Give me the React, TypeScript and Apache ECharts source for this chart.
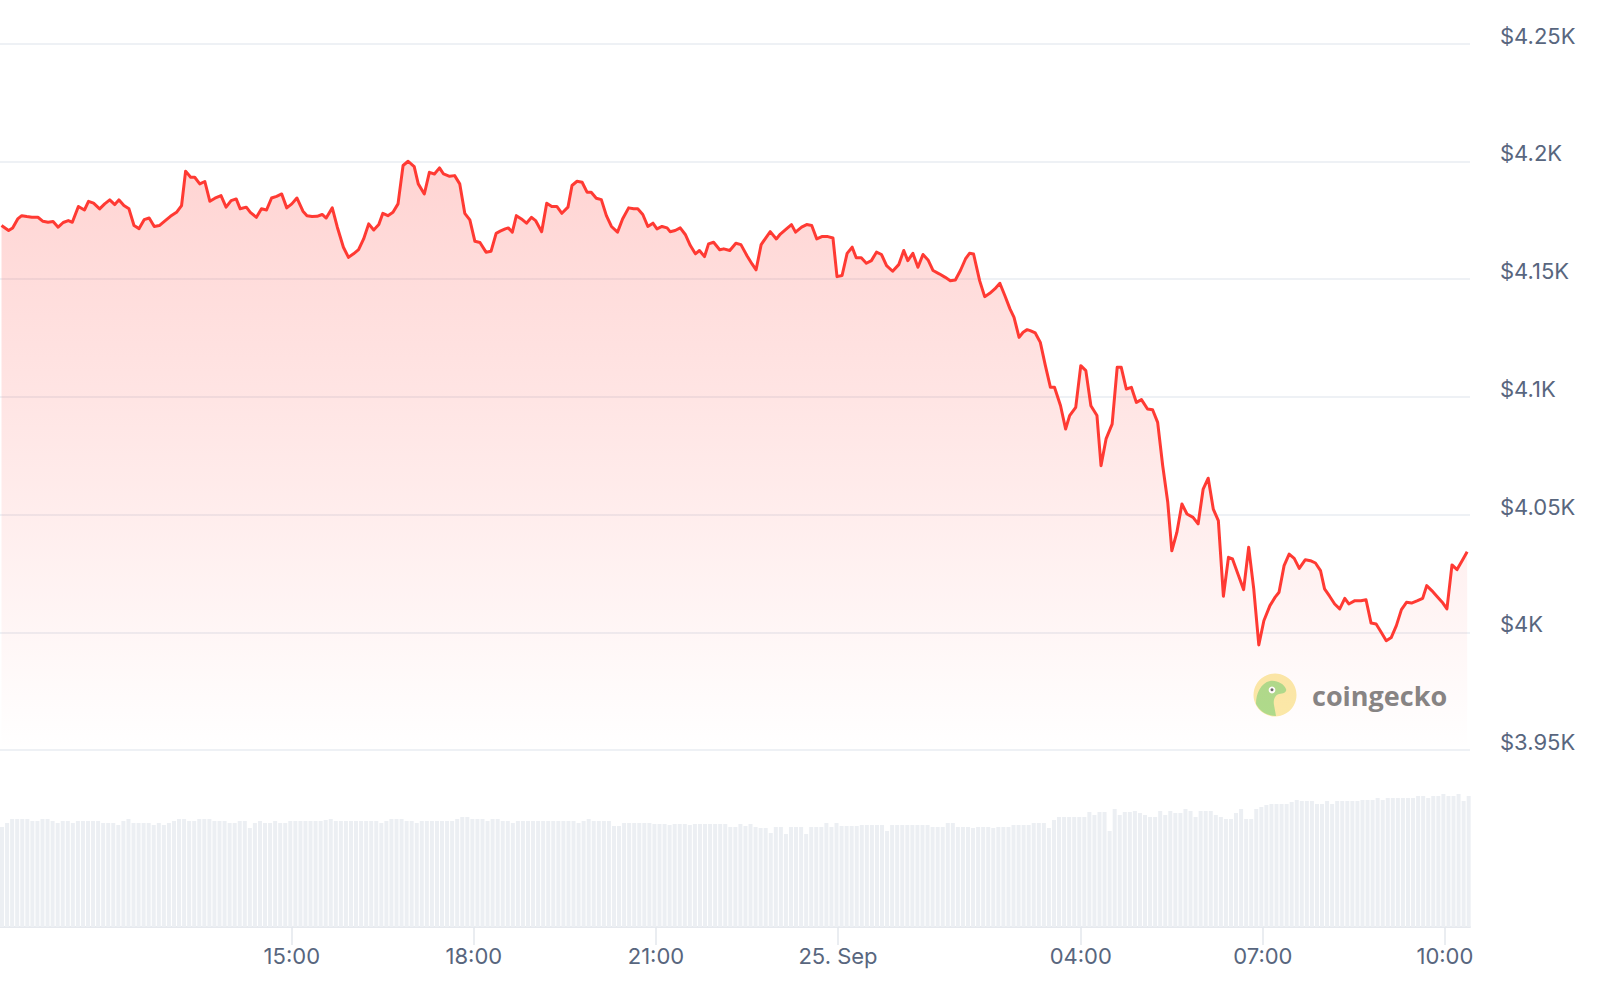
import React, { useEffect, useRef } from "react";
import * as echarts from "echarts";

// Minutes after 24 Sep 00:00, ETH price in USD
const pricePoints: [number, number][] = [
  [613, 4172.7], [620, 4170.6], [624, 4171.7], [629, 4175.5], [633, 4176.9], [638, 4176.5], [643, 4176.2],
  [649, 4176.2], [654, 4174.5], [659, 4174.1], [664, 4174.4], [669, 4172.0], [674, 4174.0], [679, 4174.8],
  [683, 4174.1], [689, 4180.8], [695, 4179.3], [699, 4183.0], [704, 4182.2], [710, 4179.8], [715, 4181.9],
  [720, 4183.6], [725, 4181.6], [729, 4183.6], [734, 4181.2], [739, 4179.8], [744, 4172.7], [749, 4171.4],
  [754, 4175.2], [759, 4175.9], [764, 4172.3], [769, 4172.7], [774, 4174.5], [780, 4176.6], [786, 4178.3],
  [791, 4181.2], [795, 4195.8], [800, 4193.2], [804, 4193.2], [809, 4190.4], [814, 4191.4], [819, 4183.0],
  [824, 4184.3], [830, 4185.4], [835, 4180.5], [840, 4183.3], [845, 4184.0], [849, 4179.8], [855, 4180.5],
  [859, 4178.3], [865, 4176.2], [870, 4179.8], [875, 4179.3], [880, 4184.4], [885, 4185.1], [890, 4186.1],
  [895, 4180.2], [900, 4181.9], [905, 4184.4], [911, 4178.8], [915, 4176.9], [920, 4176.5], [925, 4176.6],
  [930, 4177.4], [934, 4175.9], [940, 4180.2], [945, 4172.0], [951, 4163.5], [956, 4159.2], [961, 4160.7],
  [966, 4162.5], [971, 4167.0], [976, 4173.4], [981, 4170.8], [986, 4173.1], [990, 4177.9], [995, 4176.9],
  [1000, 4178.3], [1005, 4181.9], [1010, 4198.2], [1015, 4200.0], [1021, 4197.7], [1025, 4190.4], [1031, 4186.1],
  [1036, 4195.3], [1041, 4194.6], [1046, 4197.2], [1050, 4194.6], [1056, 4193.6], [1061, 4193.9], [1066, 4190.4],
  [1071, 4177.9], [1076, 4175.1], [1081, 4166.0], [1086, 4165.5], [1092, 4161.4], [1097, 4161.8], [1102, 4169.4],
  [1106, 4170.3], [1111, 4171.3], [1114, 4171.7], [1118, 4169.9], [1122, 4176.9], [1127, 4175.5], [1132, 4173.7],
  [1137, 4176.2], [1141, 4174.8], [1147, 4170.1], [1152, 4182.2], [1157, 4180.8], [1162, 4180.8], [1167, 4177.9],
  [1173, 4180.5], [1177, 4189.7], [1182, 4191.5], [1187, 4191.1], [1192, 4186.8], [1196, 4186.8], [1201, 4184.3],
  [1206, 4183.7], [1211, 4176.9], [1216, 4172.3], [1222, 4169.9], [1227, 4175.5], [1233, 4180.2], [1238, 4179.8],
  [1242, 4179.8], [1247, 4177.4], [1252, 4172.3], [1257, 4173.7], [1261, 4171.3], [1266, 4172.3], [1271, 4171.7],
  [1274, 4170.1], [1279, 4170.6], [1284, 4171.7], [1289, 4168.9], [1294, 4164.2], [1299, 4160.7], [1303, 4162.1],
  [1308, 4159.5], [1312, 4164.9], [1317, 4165.6], [1323, 4162.4], [1327, 4162.8], [1333, 4162.1], [1339, 4165.2],
  [1344, 4164.6], [1350, 4159.9], [1355, 4156.4], [1359, 4153.9], [1364, 4164.6], [1369, 4167.7], [1373, 4170.1],
  [1379, 4167.0], [1383, 4169.1], [1389, 4171.3], [1394, 4173.1], [1398, 4169.9], [1404, 4172.0], [1409, 4173.1],
  [1414, 4172.7], [1419, 4167.0], [1424, 4168.0], [1430, 4168.0], [1435, 4167.4], [1439, 4151.0], [1444, 4151.5],
  [1449, 4160.9], [1454, 4163.5], [1458, 4159.0], [1463, 4159.0], [1468, 4156.7], [1473, 4157.8], [1478, 4161.4],
  [1483, 4160.4], [1488, 4155.7], [1494, 4153.3], [1500, 4156.1], [1505, 4162.1], [1509, 4157.8], [1514, 4160.9],
  [1519, 4155.0], [1524, 4160.4], [1529, 4158.1], [1534, 4153.6], [1540, 4152.2], [1546, 4150.7], [1551, 4149.3],
  [1556, 4149.6], [1561, 4153.6], [1566, 4158.5], [1570, 4160.9], [1574, 4160.6], [1580, 4149.3], [1585, 4142.5],
  [1590, 4143.9], [1595, 4145.8], [1600, 4148.2], [1605, 4142.9], [1610, 4137.3], [1614, 4133.7], [1619, 4125.2],
  [1623, 4127.4], [1627, 4128.5], [1630, 4128.1], [1635, 4127.1], [1640, 4123.1], [1645, 4113.2], [1650, 4104.0],
  [1654, 4104.0], [1660, 4096.2], [1665, 4086.3], [1669, 4092.0], [1675, 4095.5], [1680, 4113.2], [1685, 4111.1],
  [1690, 4096.2], [1696, 4092.0], [1700, 4070.7], [1705, 4082.1], [1711, 4088.4], [1716, 4112.5], [1720, 4112.5],
  [1725, 4103.3], [1730, 4104.0], [1735, 4097.6], [1740, 4098.8], [1746, 4094.8], [1751, 4094.5], [1756, 4089.1],
  [1761, 4070.7], [1766, 4055.2], [1770, 4034.6], [1775, 4042.4], [1780, 4054.5], [1785, 4050.2], [1791, 4048.8],
  [1796, 4046.0], [1801, 4060.8], [1806, 4065.4], [1811, 4052.3], [1816, 4047.4], [1821, 4015.3], [1826, 4031.8],
  [1830, 4031.1], [1836, 4024.0], [1841, 4018.1], [1846, 4036.1], [1851, 4018.4], [1856, 3994.6], [1861, 4004.9],
  [1867, 4011.3], [1872, 4014.8], [1876, 4017.0], [1881, 4028.3], [1886, 4033.2], [1891, 4031.4], [1896, 4027.1],
  [1902, 4030.8], [1907, 4030.4], [1912, 4029.4], [1917, 4026.2], [1921, 4018.4], [1926, 4015.3], [1931, 4012.0],
  [1936, 4009.9], [1941, 4014.4], [1945, 4012.0], [1951, 4013.4], [1957, 4013.4], [1962, 4013.8], [1967, 4003.9],
  [1972, 4003.5], [1977, 4000.0], [1982, 3996.4], [1987, 3997.8], [1992, 4002.8], [1997, 4009.6], [2002, 4012.7],
  [2007, 4012.4], [2013, 4013.4], [2018, 4014.4], [2022, 4019.8], [2027, 4017.7], [2032, 4015.3], [2038, 4012.4],
  [2042, 4009.9], [2047, 4028.6], [2052, 4026.6], [2057, 4030.4], [2062, 4034.2],
];

// 24h volume (USD billions), one bar every 5 minutes starting at 10:13:30 on 24 Sep
const volumeStartMinute = 613.5;
const volumeStepMinutes = 5;
const volumeValues: number[] = [
  30, 31.2, 32.4, 32.4, 32.4, 32.4, 31.8, 31.8, 32.4, 32.4,
  31.8, 31.2, 31.8, 31.8, 31.2, 31.8, 31.8, 31.8, 31.8, 31.8,
  31.2, 31.2, 31.2, 30.6, 31.8, 32.4, 31.2, 31.2, 31.2, 31.2,
  30.6, 31.2, 30.6, 31.2, 31.8, 32.4, 32.4, 31.8, 31.8, 32.4,
  32.4, 32.4, 31.8, 31.8, 31.8, 31.2, 31.2, 31.8, 31.8, 29.7,
  31.2, 31.8, 31.2, 31.2, 31.8, 31.2, 31.2, 31.8, 31.8, 31.8,
  31.8, 31.8, 31.8, 31.8, 32.1, 32.4, 31.8, 31.8, 31.8, 31.8,
  31.8, 31.8, 31.8, 31.8, 31.8, 31.2, 31.8, 32.4, 32.4, 32.4,
  31.8, 31.8, 31.2, 31.8, 31.8, 31.8, 31.8, 31.8, 31.8, 31.8,
  32.4, 33, 33, 32.4, 32.4, 32.4, 31.8, 32.4, 32.4, 31.8,
  31.8, 31.2, 31.8, 31.8, 31.8, 31.8, 31.8, 31.8, 31.8, 31.8,
  31.8, 31.8, 31.8, 31.8, 31.2, 31.8, 32.4, 31.8, 31.8, 31.8,
  31.8, 30.3, 30.3, 31.2, 31.2, 31.2, 31.2, 31.2, 31.2, 30.9,
  30.9, 30.9, 30.6, 30.9, 30.9, 30.9, 30.6, 30.9, 30.9, 30.9,
  30.9, 30.9, 30.9, 30.9, 30, 30, 30.9, 30.3, 30.9, 30,
  29.7, 29.7, 28.2, 30, 30, 27.9, 30, 30, 30, 27.9,
  30, 30, 30, 31.2, 30, 31.2, 30.3, 30.3, 30.3, 30.3,
  30.6, 30.6, 30.6, 30.6, 30.6, 28.8, 30.6, 30.6, 30.6, 30.6,
  30.6, 30.6, 30.6, 30.6, 30, 30, 30, 31.2, 31.2, 30,
  30, 30, 29.7, 30, 30, 30, 29.7, 30, 30, 30,
  30.6, 30.6, 30.6, 30.6, 31.2, 31.2, 31.2, 29.7, 32.1, 33,
  33, 33, 33, 33, 33, 34.5, 33.6, 34.5, 34.5, 28.8,
  35.4, 33.6, 34.5, 34.5, 34.8, 34.2, 33.6, 33, 33, 34.8,
  33.6, 34.8, 34.2, 34.2, 35.4, 34.8, 33, 34.8, 34.8, 34.8,
  33.6, 33, 32.4, 32.4, 34.2, 35.4, 32.4, 32.4, 35.4, 36,
  36.6, 36.9, 36.9, 36.9, 36.9, 37.5, 38.1, 37.8, 37.8, 37.8,
  36.9, 36.9, 37.8, 36.9, 37.8, 37.8, 37.8, 37.8, 37.8, 38.1,
  38.1, 38.1, 38.7, 38.1, 38.7, 38.7, 38.7, 38.7, 38.7, 38.7,
  39.3, 39.3, 38.7, 39.3, 39.3, 39.9, 39.3, 39.3, 39.9, 37.8,
  39.3,
];

const xTickMinutes = [900, 1080, 1260, 1440, 1680, 1860, 2040];
const xMinMinute = 611.5;
const xMaxMinute = 2064.8;
const priceMin = 3950;
const priceMax = 4250;
const priceStep = 50;

const labelColor = "#58667e";
const fontFamily = "Inter, 'Noto Sans', sans-serif";

function tickLabel(m: number): string {
  const dayMin = ((m % 1440) + 1440) % 1440;
  if (dayMin === 0) return "25. Sep";
  const h = Math.floor(dayMin / 60);
  const mm = dayMin % 60;
  return String(h).padStart(2, "0") + ":" + String(mm).padStart(2, "0");
}

export default function App() {
  const ref = useRef<HTMLDivElement | null>(null);

  useEffect(() => {
    if (!ref.current) return;
    echarts.graphic.registerShape(
      "geckoHead",
      echarts.graphic.extendPath(
        "M-19 9 C-19 -2 -14 -12 -5 -14 C2 -15 9 -11 11 -6 C12 -3 9 -1 4 -1 C0 0 -2 5 -1 10 L1 21 C-7 21 -15 17 -19 9 Z",
        {}
      ) as any
    );
    const chart = echarts.init(ref.current, undefined, { renderer: "svg" });

    const volumeData = volumeValues.map((v, i) => [volumeStartMinute + i * volumeStepMinutes, v]);

    const logoCx = 1275;
    const logoCy = 695;

    chart.setOption({
      animation: false,
      backgroundColor: "#ffffff",
      grid: [
        { left: 0, right: 130, top: 43.5, height: 706.5, containLabel: false },
        { left: 0, right: 130, top: 767, height: 160, containLabel: false },
      ],
      xAxis: [
        {
          type: "value",
          gridIndex: 0,
          min: xMinMinute,
          max: xMaxMinute,
          show: false,
          splitLine: { show: false },
        },
        {
          type: "value",
          gridIndex: 1,
          min: xMinMinute,
          max: xMaxMinute,
          axisLine: { show: true, lineStyle: { color: "#e6e9ee", width: 2 } },
          axisTick: {
            show: true,
            length: 18,
            customValues: xTickMinutes,
            lineStyle: { color: "#e3e7ed", width: 1.5 },
          },
          axisLabel: {
            show: true,
            customValues: xTickMinutes,
            formatter: (v: number) => tickLabel(v),
            color: labelColor,
            fontSize: 22,
            fontFamily,
            margin: 18,
          },
          splitLine: { show: false },
        },
      ],
      yAxis: [
        {
          type: "value",
          gridIndex: 0,
          position: "right",
          min: priceMin,
          max: priceMax,
          interval: priceStep,
          axisLine: { show: false },
          axisTick: { show: false },
          axisLabel: {
            color: labelColor,
            fontSize: 22,
            fontFamily,
            margin: 30,
            verticalAlign: "bottom",
            lineHeight: 16,
            formatter: (v: number) => "$" + v / 1000 + "K",
          },
          splitLine: { show: true, lineStyle: { color: "#eef1f5", width: 2 } },
        },
        {
          type: "value",
          gridIndex: 1,
          min: 0,
          max: 48,
          show: false,
          splitLine: { show: false },
        },
      ],
      series: [
        {
          type: "bar",
          xAxisIndex: 1,
          yAxisIndex: 1,
          data: volumeData,
          barWidth: 4,
          itemStyle: { color: "#eceff3" },
          silent: true,
        },
        {
          type: "line",
          xAxisIndex: 0,
          yAxisIndex: 0,
          data: pricePoints,
          showSymbol: false,
          symbol: "none",
          lineStyle: { color: "#ff3a33", width: 3, join: "round" },
          areaStyle: {
            origin: "start",
            color: new echarts.graphic.LinearGradient(0, 0, 0, 1, [
              { offset: 0, color: "rgba(255, 58, 51, 0.31)" },
              { offset: 0.5, color: "rgba(255, 58, 51, 0.16)" },
              { offset: 1, color: "rgba(255, 58, 51, 0.0)" },
            ]),
          },
          z: 3,
        },
      ],
      graphic: [
        {
          type: "group",
          x: logoCx,
          y: logoCy,
          z: 10,
          children: [
            { type: "circle", shape: { cx: 0, cy: 0, r: 21.5 }, style: { fill: "#fbeaa9" } },
            { type: "geckoHead", x: 0, y: 0, scaleX: 1, scaleY: 1, style: { fill: "#aedc8c" } },
            { type: "circle", shape: { cx: -3, cy: -5, r: 3.4 }, style: { fill: "#ffffff" } },
            { type: "circle", shape: { cx: -3, cy: -5.2, r: 1.5 }, style: { fill: "#6a6a6a" } },
            {
              type: "text",
              x: 37,
              y: 0,
              style: {
                text: "coingecko",
                fill: "#858585",
                font: "bold 27px 'Open Sans', 'Noto Sans', sans-serif",
                verticalAlign: "middle",
                textAlign: "left",
              },
            },
          ],
        },
      ],
    });

    return () => {
      chart.dispose();
    };
  }, []);

  return (
    <div
      ref={ref}
      style={{ position: "fixed", left: 0, top: 0, width: 1600, height: 986, background: "#fff" }}
    />
  );
}
